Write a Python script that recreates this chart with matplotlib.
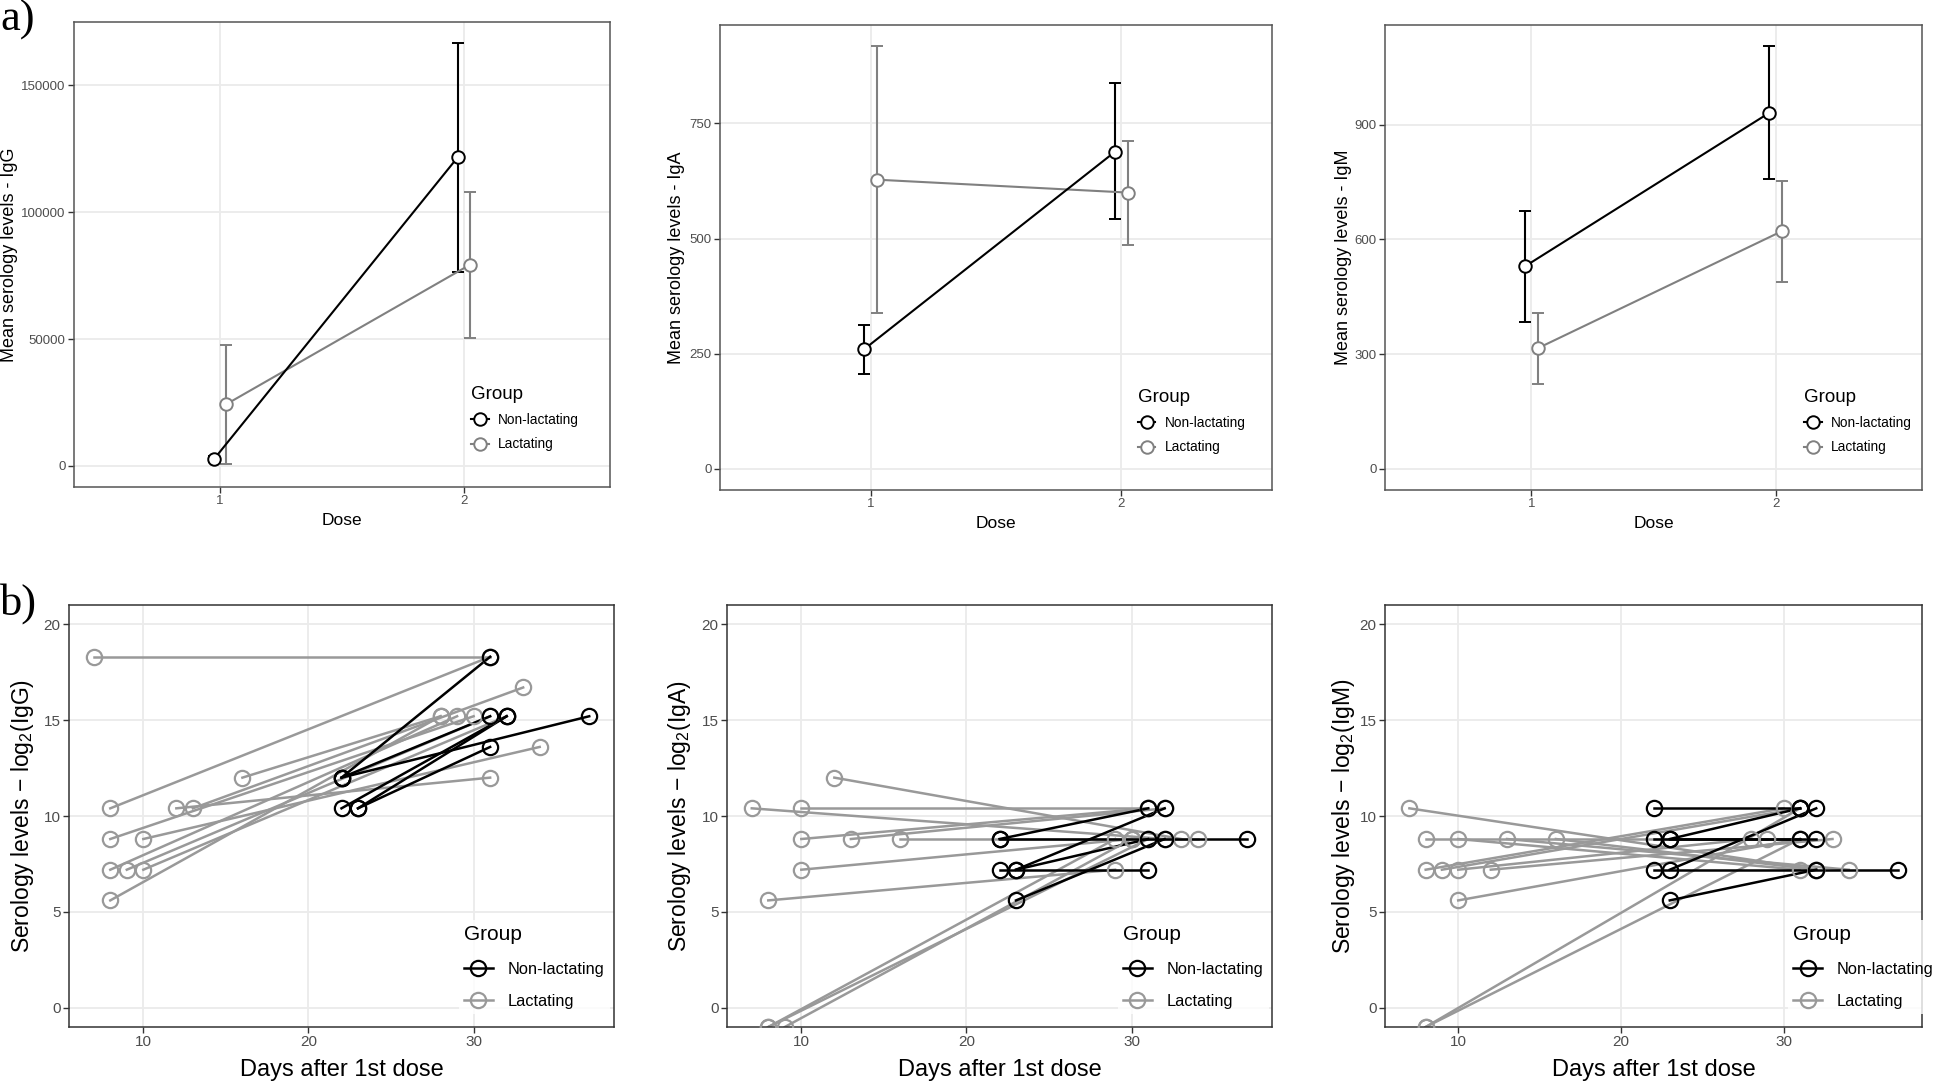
import numpy as np
import matplotlib.pyplot as plt
from matplotlib.lines import Line2D

W, H = 1944, 1086
plt.rcParams['font.family'] = ['Liberation Sans', 'DejaVu Sans']
plt.rcParams['mathtext.fontset'] = 'custom'
plt.rcParams['mathtext.rm'] = 'Liberation Sans'
plt.rcParams['mathtext.it'] = 'Liberation Sans:italic'

GROUPS = ['Non-lactating', 'Lactating']
DOSES = [1, 2]

# a) mean serology per dose: mean, lower and upper bound of the error bar
igg_nonlact = [2700, 121700]
igg_nonlact_lo = [1500, 76400]
igg_nonlact_hi = [3900, 166700]
igg_lact = [24300, 79300]
igg_lact_lo = [700, 50500]
igg_lact_hi = [47800, 108000]

iga_nonlact = [260, 689]
iga_nonlact_lo = [207, 543]
iga_nonlact_hi = [312, 838]
iga_lact = [628, 600]
iga_lact_lo = [338, 487]
iga_lact_hi = [918, 713]

igm_nonlact = [530, 931]
igm_nonlact_lo = [385, 757]
igm_nonlact_hi = [673, 1105]
igm_lact = [315, 621]
igm_lact_lo = [221, 489]
igm_lact_hi = [408, 753]

# b) individual subjects: (day 1st sample, log2 level, day 2nd sample, log2 level)
igg_subj_nonlact = [(22, 12.0, 31, 18.3), (22, 12.0, 31, 15.2), (22, 12.0, 37, 15.2),
                    (22, 10.4, 32, 15.2), (23, 10.4, 32, 15.2), (23, 10.4, 31, 13.6)]
igg_subj_lact = [(7, 18.3, 31, 18.3), (8, 10.4, 31, 18.3), (8, 8.8, 30, 15.2),
                 (8, 7.2, 29, 15.2), (9, 7.2, 31, 15.2), (10, 7.2, 32, 15.2),
                 (8, 5.6, 28, 15.2), (10, 8.8, 34, 13.6), (12, 10.4, 31, 12.0),
                 (13, 10.4, 33, 16.7), (16, 12.0, 28, 15.2)]

iga_subj_nonlact = [(22, 8.8, 31, 10.4), (22, 8.8, 37, 8.8), (22, 7.2, 31, 7.2),
                    (23, 7.2, 32, 10.4), (23, 7.2, 31, 8.8), (23, 5.6, 32, 8.8)]
iga_subj_lact = [(7, 10.4, 32, 8.8), (10, 10.4, 31, 10.4), (12, 12.0, 33, 8.8),
                 (10, 8.8, 31, 10.4), (13, 8.8, 32, 10.4), (16, 8.8, 34, 8.8),
                 (10, 7.2, 30, 8.8), (8, 5.6, 29, 7.2), (8, -1, 29, 8.8),
                 (8, -1, 31, 8.8), (9, -1, 30, 8.8)]

igm_subj_nonlact = [(22, 10.4, 31, 10.4), (22, 8.8, 31, 8.8), (22, 7.2, 37, 7.2),
                    (23, 7.2, 32, 10.4), (23, 5.6, 32, 7.2), (23, 8.8, 31, 10.4),
                    (23, 8.8, 32, 8.8)]
igm_subj_lact = [(7, 10.4, 32, 7.2), (8, 8.8, 29, 8.8), (10, 8.8, 31, 7.2),
                 (13, 8.8, 34, 7.2), (16, 8.8, 32, 7.2), (8, 7.2, 30, 10.4),
                 (9, 7.2, 31, 10.4), (10, 7.2, 28, 8.8), (12, 7.2, 33, 8.8),
                 (10, 5.6, 31, 8.8), (8, -1, 31, 10.4), (8, -1, 31, 8.8)]

BLACK = '#000000'
GREY_A = '#808080'
GREY_B = '#999999'
GRID = '#EBEBEB'


def px_axes(fig, l, t, r, b):
    return fig.add_axes([l / W, 1 - b / H, (r - l) / W, (b - t) / H])


def style(ax, border, tick_size):
    ax.set_facecolor('white')
    for s in ax.spines.values():
        s.set_color(border)
        s.set_linewidth(1.1)
    ax.grid(True, color=GRID, lw=1.3)
    ax.set_axisbelow(True)
    ax.tick_params(length=4, width=1, color='#333333', labelcolor='#4D4D4D',
                   labelsize=tick_size, pad=2)


def dose_panel(ax, nl, nl_lo, nl_hi, l, l_lo, l_hi, ticks, ylab, ylab_x, leg_x):
    style(ax, '#555555', 9.5)
    x = np.array(DOSES, dtype=float)
    for vals, lo, hi, col, dx in [(l, l_lo, l_hi, GREY_A, 0.025),
                                  (nl, nl_lo, nl_hi, BLACK, -0.025)]:
        vals, lo, hi = np.array(vals), np.array(lo), np.array(hi)
        ax.errorbar(x + dx, vals, yerr=[vals - lo, hi - vals], color=col, lw=1.5,
                    capsize=4.5, capthick=1.5, elinewidth=1.5, marker='o', ms=9,
                    mfc='white', mec=col, mew=1.4, zorder=3)
    top = max(max(nl_hi), max(l_hi))
    ax.set_ylim(-0.05 * top, 1.05 * top)
    ax.set_xlim(0.4, 2.6)
    ax.set_xticks(DOSES)
    ax.set_yticks(ticks)
    ax.set_yticklabels([str(t) for t in ticks])
    ax.set_xlabel('Dose', fontsize=12.5)
    ax.xaxis.set_label_coords(0.5, -0.055)
    ax.set_ylabel(ylab, fontsize=13)
    ax.yaxis.set_label_coords(ylab_x, 0.5)
    handles = [Line2D([], [], color=c, lw=1.5, marker='o', ms=9, mfc='white', mec=c, mew=1.4)
               for c in (BLACK, GREY_A)]
    leg = ax.legend(handles, GROUPS, title='Group', loc='lower left',
                    bbox_to_anchor=(leg_x, 0.053), frameon=True, fontsize=9.8,
                    title_fontsize=13.5, handlelength=1.3, handletextpad=0.7,
                    labelspacing=0.75, borderpad=0.3)
    leg.get_frame().set_edgecolor('none')
    leg._legend_box.align = 'left'


def days_panel(ax, nonlact, lact, ylab, ylab_x, leg_x):
    style(ax, '#333333', 11)
    for subj, col in [(lact, GREY_B), (nonlact, BLACK)]:
        for d1, v1, d2, v2 in subj:
            ax.plot([d1, d2], [v1, v2], color=col, lw=1.8, zorder=2)
    for subj, col in [(lact, GREY_B), (nonlact, BLACK)]:
        for d1, v1, d2, v2 in subj:
            ax.plot([d1, d2], [v1, v2], ls='none', marker='o', ms=11, mfc='none',
                    mec=col, mew=1.6, zorder=3)
    days = [s[0] for s in nonlact + lact] + [s[2] for s in nonlact + lact]
    span = max(days) - min(days)
    ax.set_xlim(min(days) - 0.05 * span, max(days) + 0.05 * span)
    ax.set_ylim(-1, 21)
    ax.set_xticks([10, 20, 30])
    ax.set_yticks([0, 5, 10, 15, 20])
    ax.set_xlabel('Days after 1st dose', fontsize=17)
    ax.xaxis.set_label_coords(0.5, -0.075)
    ax.set_ylabel(ylab, fontsize=16.5)
    ax.yaxis.set_label_coords(ylab_x, 0.5)
    handles = [Line2D([], [], color=c, lw=1.8, marker='o', ms=11, mfc='none', mec=c, mew=1.6)
               for c in (BLACK, GREY_B)]
    leg = ax.legend(handles, GROUPS, title='Group', loc='lower left',
                    bbox_to_anchor=(leg_x, 0.012), frameon=True, fontsize=11.8,
                    title_fontsize=15, handlelength=1.8, handletextpad=0.9,
                    labelspacing=1.05, borderpad=0.3)
    leg.get_frame().set_edgecolor('none')
    leg._legend_box.align = 'left'


fig = plt.figure(figsize=(W / 100, H / 100), dpi=100)

a1 = px_axes(fig, 74, 22, 610, 487)
a2 = px_axes(fig, 720, 25, 1272, 490)
a3 = px_axes(fig, 1385, 25, 1922, 490)
dose_panel(a1, igg_nonlact, igg_nonlact_lo, igg_nonlact_hi, igg_lact, igg_lact_lo, igg_lact_hi,
           [0, 50000, 100000, 150000], 'Mean serology levels - IgG', -0.105, 0.72)
dose_panel(a2, iga_nonlact, iga_nonlact_lo, iga_nonlact_hi, iga_lact, iga_lact_lo, iga_lact_hi,
           [0, 250, 500, 750], 'Mean serology levels - IgA', -0.064, 0.737)
dose_panel(a3, igm_nonlact, igm_nonlact_lo, igm_nonlact_hi, igm_lact, igm_lact_lo, igm_lact_hi,
           [0, 300, 600, 900], 'Mean serology levels - IgM', -0.062, 0.76)

b1 = px_axes(fig, 69, 605, 614, 1027)
b2 = px_axes(fig, 727, 605, 1272, 1027)
b3 = px_axes(fig, 1385, 605, 1922, 1027)
days_panel(b1, igg_subj_nonlact, igg_subj_lact, 'Serology levels \u2212 log$_2$(IgG)', -0.061, 0.7)
days_panel(b2, iga_subj_nonlact, iga_subj_lact, 'Serology levels \u2212 log$_2$(IgA)', -0.063, 0.702)
days_panel(b3, igm_subj_nonlact, igm_subj_lact, 'Serology levels \u2212 log$_2$(IgM)', -0.052, 0.735)

fig.text(0.0, 1.0, 'a)', fontsize=32, family='Liberation Serif', va='top', ha='left')
fig.text(0.0, 1 - 583 / H, 'b)', fontsize=32, family='Liberation Serif', va='top', ha='left')

fig.savefig('out.png', dpi=100, facecolor='white')
